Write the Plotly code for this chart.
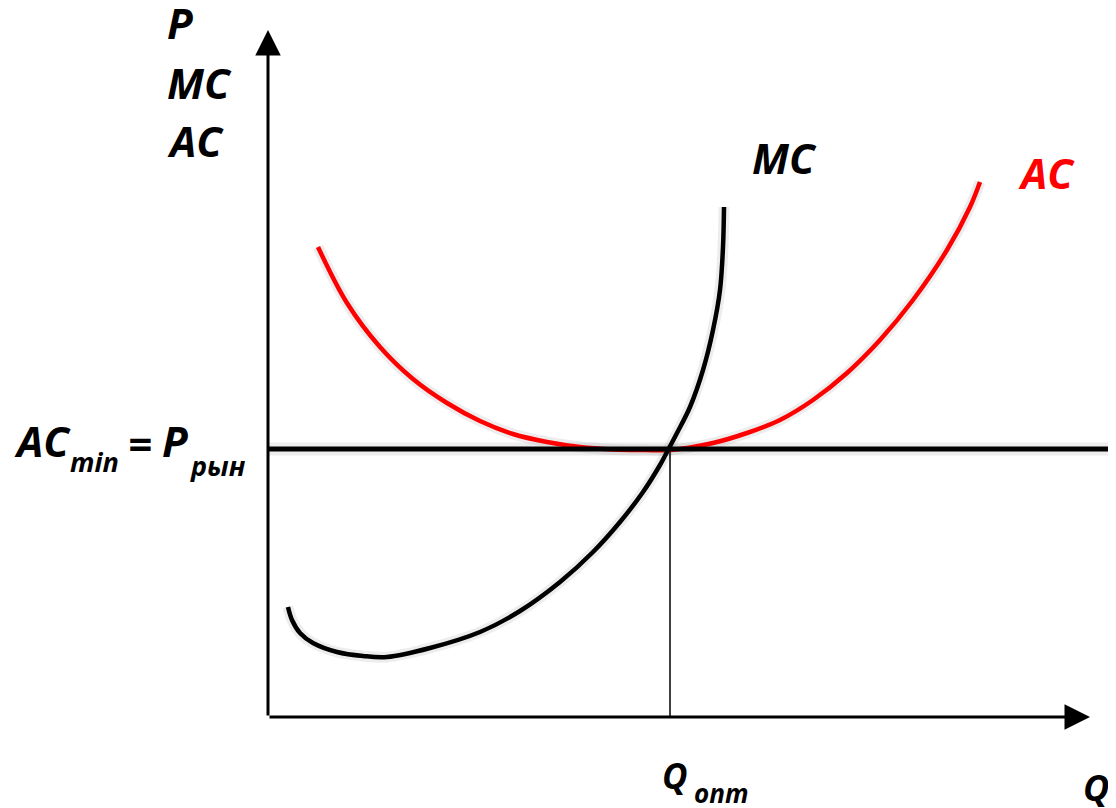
import plotly.graph_objects as go

# Data (Q in arbitrary units, P in arbitrary units)
ac_q = [1.25, 1.975, 2.8, 3.625, 4.475, 5.3, 6.125, 6.975, 7.8, 8.625, 9.425, 10.05,
        11.125, 11.975, 12.8, 13.625, 14.475, 15.3, 16.125, 16.975, 17.55, 17.8]
ac_p = [11.75, 10.35, 9.25, 8.45, 7.85, 7.4, 7.075, 6.875, 6.75, 6.69, 6.675, 6.675,
        6.85, 7.1, 7.425, 7.925, 8.6, 9.425, 10.425, 11.675, 12.75, 13.375]

mc_q = [0.5, 0.6, 0.8, 1.125, 1.725, 2.375, 2.975, 4.05, 5.3, 6.3, 7.3, 8.125, 8.8,
        9.375, 9.8, 9.975, 10.225, 10.55, 10.875, 11.125, 11.3, 11.375, 11.4]
mc_p = [2.75, 2.425, 2.1, 1.85, 1.625, 1.525, 1.5, 1.725, 2.125, 2.65, 3.375, 4.125, 4.875,
        5.625, 6.3, 6.625, 7.1, 7.75, 8.675, 9.675, 10.675, 11.75, 12.75]

p_market = 6.7
q_opt = 10.05
q_axis_max = 20.55
p_axis_max = 17.175
line_end = 21.2

FONT = "Open Sans"

fig = go.Figure()

# soft shadows
for xs, ys in [(ac_q, ac_p), (mc_q, mc_p)]:
    fig.add_trace(go.Scatter(x=xs, y=ys, mode="lines", line_shape="spline",
                             line=dict(color="rgba(0,0,0,0.07)", width=11, smoothing=1.0),
                             hoverinfo="skip", showlegend=False))
fig.add_trace(go.Scatter(x=[0, line_end], y=[p_market, p_market], mode="lines",
                         line=dict(color="rgba(0,0,0,0.07)", width=13),
                         hoverinfo="skip", showlegend=False))

# vertical line at Q_opt
fig.add_trace(go.Scatter(x=[q_opt, q_opt], y=[0, p_market], mode="lines",
                         line=dict(color="black", width=1.5), showlegend=False))
# AC curve
fig.add_trace(go.Scatter(x=ac_q, y=ac_p, mode="lines", line_shape="spline",
                         line=dict(color="#ff0000", width=4.5, smoothing=1.0), showlegend=False))
# horizontal price line
fig.add_trace(go.Scatter(x=[0, line_end], y=[p_market, p_market], mode="lines",
                         line=dict(color="black", width=5), showlegend=False))
# MC curve
fig.add_trace(go.Scatter(x=mc_q, y=mc_p, mode="lines", line_shape="spline",
                         line=dict(color="black", width=4.5, smoothing=1.0), showlegend=False))

# axes arrows
fig.add_annotation(x=0, y=p_axis_max, ax=0, ay=0, xref="x", yref="y", axref="x", ayref="y",
                   text="", showarrow=True, arrowhead=2, arrowwidth=3, arrowsize=1.7,
                   arrowcolor="black")
fig.add_annotation(x=q_axis_max, y=0, ax=0, ay=0, xref="x", yref="y", axref="x", ayref="y",
                   text="", showarrow=True, arrowhead=2, arrowwidth=3, arrowsize=1.7,
                   arrowcolor="black")

def label(x, y, text, color="black", size=42, xanchor="center", yanchor="middle"):
    fig.add_annotation(x=x, y=y, xref="x", yref="y", text=text, showarrow=False,
                       xanchor=xanchor, yanchor=yanchor,
                       font=dict(family=FONT, size=size, color=color, weight="bold", style="italic"))

label(-2.575, 17.375, "P", xanchor="left")
label(-2.575, 15.875, "MC", xanchor="left")
label(-2.575, 14.425, "AC", xanchor="left")
label(12.9, 14.0, "MC")
label(19.45, 13.625, "AC", color="#ff0000")

# AC_min = P_рын
label(-6.4, 6.925, "AC", xanchor="left")
label(-5.0, 6.4, "min", size=27, xanchor="left")
label(-3.55, 6.875, "=", xanchor="left")
label(-2.7, 6.925, "P", xanchor="left")
label(-2.0, 6.3, "рын", size=27, xanchor="left")

# Q_опт
label(9.8, -1.45, "Q", size=35, xanchor="left")
label(10.6, -1.9, "опт", size=26, xanchor="left")

label(20.7, -1.75, "Q", size=36)

# page body has an 8px margin: figure spans page pixels 8..1116 / 8..808
fig.update_layout(
    width=1108, height=800,
    margin=dict(l=0, r=0, t=0, b=0),
    paper_bgcolor="white", plot_bgcolor="white",
    xaxis=dict(range=[-6.5, 21.2], visible=False, fixedrange=True),
    yaxis=dict(range=[-2.275, 17.725], visible=False, fixedrange=True),
    showlegend=False,
)

fig.write_html("out.html")
